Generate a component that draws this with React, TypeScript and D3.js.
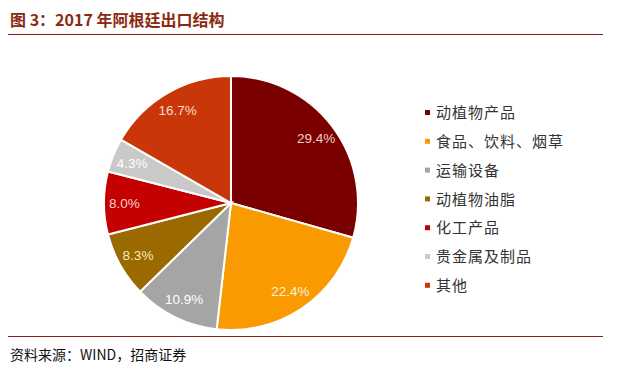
import { useRef, useEffect } from 'react';
import * as d3 from 'd3';

const categories = ['动植物产品', '食品、饮料、烟草', '运输设备', '动植物油脂', '化工产品', '贵金属及制品', '其他'];
const shares = [29.4, 22.4, 10.9, 8.3, 8.0, 4.3, 16.7];

const palette = ['#7a0000', '#f89a00', '#a5a5a5', '#9a6a00', '#c40000', '#c9c9c9', '#c8360a'];
const labelColors = ['#f6cfc8', '#fdf0dc', '#ffffff', '#fbe9b8', '#f9d0cc', '#ffffff', '#fbdccf'];

const App = () => {
  const ref = useRef<SVGSVGElement>(null);

  useEffect(() => {
    if (!ref.current) return;
    const svg = d3.select(ref.current);
    svg.selectAll('*').remove();

    const width = 625;
    const height = 372;
    const cx = 231;
    const cy = 203;
    const radius = 127;

    svg.append('rect').attr('width', width).attr('height', height).attr('fill', '#ffffff');

    // title
    svg.append('text')
      .attr('x', 10)
      .attr('y', 26)
      .style('font-family', '"Noto Sans CJK SC", sans-serif')
      .style('font-size', '16px')
      .style('font-weight', 'bold')
      .attr('fill', '#8c2a10')
      .text('图 3：2017 年阿根廷出口结构');

    svg.append('line')
      .attr('x1', 8).attr('x2', 603)
      .attr('y1', 34.5).attr('y2', 34.5)
      .attr('stroke', '#8b1c1c')
      .attr('stroke-width', 1.2);

    svg.append('line')
      .attr('x1', 8).attr('x2', 603)
      .attr('y1', 336.5).attr('y2', 336.5)
      .attr('stroke', '#8b1c1c')
      .attr('stroke-width', 1.2);

    svg.append('text')
      .attr('x', 10)
      .attr('y', 360)
      .style('font-family', '"Noto Sans CJK SC", sans-serif')
      .style('font-size', '14px')
      .attr('fill', '#111')
      .text('资料来源：WIND，招商证券');

    const pie = d3.pie<number>().sort(null).value(d => d);
    const arcs = pie(shares);
    const arc = d3.arc<d3.PieArcDatum<number>>().innerRadius(0).outerRadius(radius);
    const labelArc = d3.arc<d3.PieArcDatum<number>>().innerRadius(radius * 0.84).outerRadius(radius * 0.84);

    const g = svg.append('g').attr('transform', `translate(${cx},${cy})`);

    g.selectAll('path')
      .data(arcs)
      .join('path')
      .attr('d', arc)
      .attr('fill', (_, i) => palette[i])
      .attr('stroke', '#ffffff')
      .attr('stroke-width', 2);

    g.selectAll('text.lbl')
      .data(arcs)
      .join('text')
      .attr('class', 'lbl')
      .attr('transform', d => `translate(${labelArc.centroid(d)})`)
      .attr('text-anchor', 'middle')
      .attr('dy', '0.35em')
      .style('font-family', '"Liberation Sans", Arial, sans-serif')
      .style('font-size', '13.5px')
      .attr('fill', (_, i) => labelColors[i])
      .text(d => d.data.toFixed(1) + '%');

    // legend
    const legend = svg.append('g').attr('transform', 'translate(425,113)');
    const item = legend.selectAll('g')
      .data(categories)
      .join('g')
      .attr('transform', (_, i) => `translate(0,${i * 28.8})`);

    item.append('rect')
      .attr('x', 0)
      .attr('y', -3)
      .attr('width', 5)
      .attr('height', 5)
      .attr('fill', (_, i) => palette[i]);

    item.append('text')
      .attr('x', 11)
      .attr('dy', '0.35em')
      .style('font-family', '"Noto Sans CJK SC", sans-serif')
      .style('font-size', '15px')
      .style('letter-spacing', '1px')
      .attr('fill', '#333')
      .text(d => d);
  }, []);

  return <svg ref={ref} width={625} height={372} style={{ display: 'block', margin: '-8px' }} />;
};

export default App;
